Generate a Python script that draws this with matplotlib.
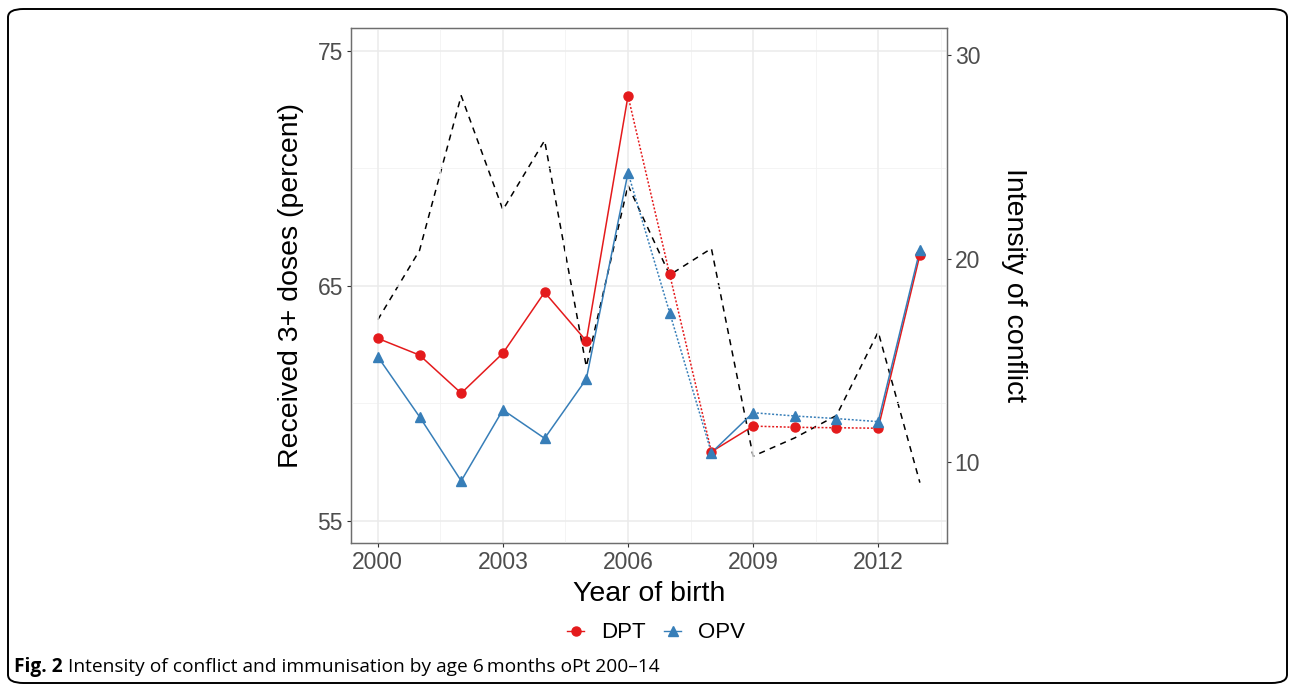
import matplotlib
matplotlib.use("Agg")
import matplotlib.pyplot as plt
from matplotlib.lines import Line2D
from matplotlib.patches import FancyBboxPatch
import numpy as np

years = [2000, 2001, 2002, 2003, 2004, 2005, 2006, 2007, 2008, 2009, 2010, 2011, 2012, 2013]
dpt = [62.76, 62.05, 60.43, 62.13, 64.72, 62.65, 73.07, 65.48, 57.94, 59.03, 58.98, 58.96, 58.94, 66.31]
opv = [61.98, 59.43, 56.70, 59.72, 58.51, 61.03, 69.80, 63.85, 57.90, 59.60, 59.46, 59.35, 59.22, 66.52]
conflict = [17.0, 20.4, 28.0, 22.4, 25.8, 14.7, 23.6, 19.2, 20.5, 10.3, 11.2, 12.3, 16.4, 9.0]
# segment kinds between consecutive years (observed vs. imputed)
segment_kind = ['solid'] * 6 + ['dotted', 'dotted', 'solid', 'dotted', 'dotted', 'dotted', 'solid']
x_ticks = [2000, 2003, 2006, 2009, 2012]
left_ticks = [55, 65, 75]
right_ticks = [10, 20, 30]

RED = '#E41A1C'
BLUE = '#377EB8'
TICKC = '#4D4D4D'
plt.rcParams['font.family'] = ['Liberation Sans', 'DejaVu Sans']

W, H = 1295, 693
fig = plt.figure(figsize=(W / 100, H / 100), dpi=100)

# outer rounded frame
frame = FancyBboxPatch((8 / W, 10 / H), (1287 - 8) / W, (684 - 10) / H,
                       boxstyle="round,pad=0,rounding_size=0.012",
                       transform=fig.transFigure, fill=False, lw=1.4, ec='black')
fig.patches.append(frame)

x0, x1 = 350.7, 947.0
y0, y1 = 27.5, 543.3
ax = fig.add_axes([x0 / W, 1 - y1 / H, (x1 - x0) / W, (y1 - y0) / H])
ax2 = ax.twinx()
ax.set_zorder(ax2.get_zorder() + 1)
ax.patch.set_visible(False)

# pixel-derived limits
def lval(y):
    return 65 - (y - 285.7) / 23.52
def rval(y):
    return 30 - (y - 55.0) / 20.365

ax.set_ylim(lval(y1), lval(y0))
ax2.set_ylim(rval(y1), rval(y0))
ax.set_xlim(1999.35, 2013.65)

# grid
for v in [70, 60]:
    ax.axhline(v, color='#F2F2F2', lw=0.6, zorder=0)
for v in [2001.5, 2004.5, 2007.5, 2010.5, 2013.5]:
    ax.axvline(v, color='#F2F2F2', lw=0.6, zorder=0)
for v in left_ticks:
    ax.axhline(v, color='#EBEBEB', lw=1.1, zorder=0)
for v in x_ticks:
    ax.axvline(v, color='#EBEBEB', lw=1.1, zorder=0)

# conflict line (dashed) on right axis
ax2.plot(years, conflict, color='black', lw=1.1, ls=(0, (4, 3.5)), zorder=2)

def draw_series(vals, color, marker, ms):
    for i, kind in enumerate(segment_kind):
        ls = '-' if kind == 'solid' else (0, (1.3, 1.2))
        ax.plot(years[i:i + 2], vals[i:i + 2], color=color, lw=1.1, ls=ls, zorder=3)
    ax.plot(years, vals, ls='none', marker=marker, ms=ms, color=color, zorder=4)

draw_series(dpt, RED, 'o', 6.5)
draw_series(opv, BLUE, '^', 7.5)

# ticks and spines
ax.set_xticks(x_ticks)
ax.set_yticks(left_ticks)
ax2.set_yticks(right_ticks)
for a in (ax, ax2):
    a.tick_params(axis='both', colors='#333333', labelcolor=TICKC, labelsize=16.5,
                  length=3, width=0.8, pad=2.5)
    for s in a.spines.values():
        s.set_color('#6E6E6E')
        s.set_linewidth(0.9)

ax.set_xlabel('Year of birth', fontsize=20.5, labelpad=5)
ax.set_ylabel('Received 3+ doses (percent)', fontsize=20.5, labelpad=10)
ax2.set_ylabel('Intensity of conflict', fontsize=20.5, rotation=-90, labelpad=34)

# legend
handles = [Line2D([0], [0], color=RED, marker='o', ms=6.5, lw=1.0),
           Line2D([0], [0], color=BLUE, marker='^', ms=7.0, lw=1.0)]
fig.legend(handles, ['DPT', 'OPV'], loc='center', bbox_to_anchor=(656 / W, 1 - 633 / H),
           ncol=2, frameon=False, fontsize=16, handlelength=0.75, handletextpad=0.75,
           columnspacing=0.85)

# caption
fig.canvas.draw()
t1 = fig.text(14 / W, 1 - 667 / H, 'Fig. 2', fontsize=13.8, fontweight='bold',
              family=['Open Sans', 'DejaVu Sans'], va='center', ha='left')
fig.canvas.draw()
bb = t1.get_window_extent()
fig.text((bb.x1 + 5) / W, 1 - 667 / H,
         'Intensity of conflict and immunisation by age 6\u2009months oPt 200\u201314',
         fontsize=13.8, family=['Open Sans', 'DejaVu Sans'], va='center', ha='left')

fig.savefig('out.png', dpi=100)
